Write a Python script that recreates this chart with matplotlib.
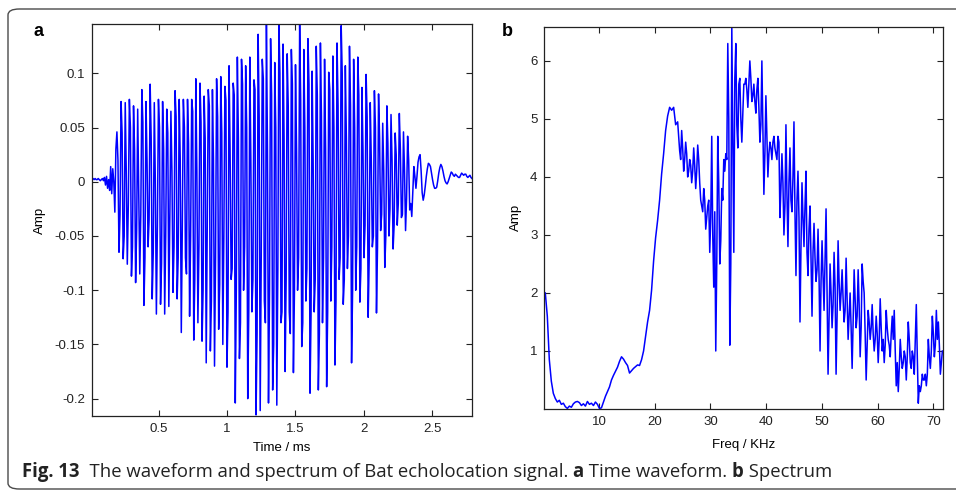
import numpy as np
import matplotlib
matplotlib.use("Agg")
import matplotlib.pyplot as plt
from matplotlib.patches import FancyBboxPatch

plt.rcParams['axes.unicode_minus'] = False

# ---------------- Data: (a) time waveform ----------------
t_start, t_end = 0.013, 2.79          # ms
wave_lead = [0.003, 0.003, 0.002, 0.003, 0.002, 0.002, 0.003, 0.002, 0.001, 0.002,
             0.003, 0.001, 0.004, -0.003, 0.005, -0.006, 0.002, -0.008, 0.014, -0.011,
             0.012, 0.000, -0.028, 0.030]
wave_pos = [0.046, 0.074, 0.073, 0.076, 0.070, 0.067, 0.085, 0.074, 0.090, 0.073,
            0.076, 0.074, 0.067, 0.065, 0.084, 0.076, 0.076, 0.076, 0.076, 0.095,
            0.091, 0.079, 0.085, 0.085, 0.095, 0.097, 0.088, 0.107, 0.091, 0.115,
            0.113, 0.107, 0.115, 0.094, 0.136, 0.113, 0.146, 0.132, 0.110, 0.146,
            0.127, 0.118, 0.122, 0.108, 0.146, 0.122, 0.132, 0.102, 0.125, 0.128,
            0.113, 0.101, 0.116, 0.128, 0.144, 0.107, 0.125, 0.113, 0.115, 0.087,
            0.099, 0.073, 0.084, 0.081, 0.054, 0.070, 0.062, 0.045, 0.063, 0.046,
            0.042]
wave_mid1 = [0.020, 0.045, 0.010, 0.050, 0.030, -0.010, 0.055, 0.020, 0.040, 0.000,
             0.050, 0.030, 0.045, 0.010, 0.060, 0.020, 0.050, 0.035, 0.065, 0.010,
             0.055, 0.040, 0.070, 0.020, 0.060, 0.045, 0.075, 0.030, 0.080, 0.040,
             0.090, 0.050, 0.020, 0.085, 0.060, 0.095, 0.030, 0.080, 0.050, 0.100,
             0.040, 0.070, 0.090, 0.030, 0.075, 0.050, 0.090, 0.020, 0.080, 0.060,
             0.030, 0.085, 0.050, 0.070, 0.100, 0.040, 0.070, 0.050, 0.080, 0.030,
             0.060, 0.020, 0.050, 0.040, 0.010, 0.035, 0.020, 0.025, 0.030, 0.010,
             0.020]
wave_neg = [-0.065, -0.071, -0.076, -0.087, -0.093, -0.085, -0.114, -0.060, -0.108, -0.122,
            -0.113, -0.122, -0.115, -0.102, -0.108, -0.139, -0.070, -0.124, -0.146, -0.130,
            -0.147, -0.167, -0.156, -0.170, -0.136, -0.150, -0.171, -0.090, -0.204, -0.163,
            -0.100, -0.200, -0.120, -0.215, -0.211, -0.110, -0.204, -0.192, -0.206, -0.130,
            -0.175, -0.120, -0.176, -0.100, -0.152, -0.110, -0.195, -0.120, -0.192, -0.130,
            -0.189, -0.110, -0.169, -0.090, -0.113, -0.080, -0.167, -0.100, -0.111, -0.070,
            -0.125, -0.060, -0.121, -0.045, -0.079, -0.050, -0.062, -0.040, -0.033, -0.045,
            -0.026]
wave_mid2 = [-0.030, -0.050, -0.020, -0.060, -0.045, -0.030, -0.070, -0.035, -0.065, -0.040,
             -0.075, -0.050, -0.030, -0.060, -0.070, -0.040, -0.085, -0.050, -0.090, -0.060,
             -0.100, -0.045, -0.110, -0.070, -0.095, -0.050, -0.120, -0.080, -0.100, -0.130,
             -0.060, -0.120, -0.090, -0.140, -0.070, -0.130, -0.100, -0.150, -0.080, -0.120,
             -0.090, -0.140, -0.100, -0.070, -0.130, -0.080, -0.120, -0.090, -0.140, -0.070,
             -0.120, -0.060, -0.110, -0.070, -0.090, -0.050, -0.100, -0.060, -0.080, -0.040,
             -0.070, -0.050, -0.060, -0.030, -0.050, -0.025, -0.040, -0.020, -0.030, -0.015,
             -0.020]
wave_tail = [-0.032, -0.010, 0.014, 0.005, -0.006, 0.005, 0.018, 0.023, 0.025, 0.010,
             -0.010, -0.017, -0.012, -0.004, 0.005, 0.012, 0.017, 0.016, 0.014, 0.008,
             0.002, -0.003, -0.006, -0.006, -0.005, 0.001, 0.008, 0.013, 0.016, 0.014,
             0.010, 0.005, 0.001, -0.001, -0.002, 0.000, 0.003, 0.006, 0.009, 0.008,
             0.006, 0.005, 0.007, 0.006, 0.005, 0.004, 0.004, 0.006, 0.008, 0.007,
             0.006, 0.007, 0.007, 0.005, 0.004, 0.005, 0.006, 0.004, 0.003]

# ---------------- Data: (b) spectrum ----------------
f_smooth_start, f_smooth_end = 0.36, 24.48     # kHz, coarse grid
f_noisy_start, f_noisy_end = 24.66, 71.64      # kHz, fine grid
spec_smooth = [
    2.00, 1.60, 0.85, 0.48, 0.27, 0.18, 0.12, 0.15, 0.08, 0.10,
    0.04, 0.01, 0.05, 0.03, 0.09, 0.12, 0.13, 0.11, 0.06, 0.09,
    0.05, 0.13, 0.08, 0.10, 0.06, 0.12, 0.08, 0.01, 0.02, 0.12,
    0.22, 0.30, 0.38, 0.50, 0.58, 0.65, 0.72, 0.82, 0.90, 0.86,
    0.80, 0.75, 0.62, 0.66, 0.70, 0.73, 0.76, 0.75, 0.85, 1.00,
    1.25, 1.50, 1.70, 2.05, 2.55, 2.95, 3.25, 3.60, 4.05, 4.40,
    4.80, 5.05, 5.20, 5.15, 5.20, 4.90, 4.95, 4.45]
spec_noisy_a = [
    4.3, 4.5, 4.3, 4.4, 4.1, 4.2, 4.1, 4.2, 4.1, 4.3,
    3.6, 3.4, 3.6, 3.3, 3.6, 3.3, 3.0, 3.4, 2.5, 3.9,
    2.9, 3.6, 4.1, 4.3, 5.0, 2.5, 4.6, 5.7, 4.9, 5.6,
    5.0, 5.1, 5.6, 5.5, 5.6, 5.7, 5.4, 5.3, 5.5, 5.2,
    4.9, 4.8, 4.4, 4.7, 4.4, 4.5, 4.6, 4.5, 4.3, 4.6,
    3.8, 3.9, 3.5, 3.7, 3.9, 3.6, 4.0, 3.4, 3.6, 3.3,
    2.8, 3.3, 3.5, 2.7, 3.1, 2.6, 2.7, 2.6, 2.4, 2.3,
    2.2, 2.3, 2.6, 2.0, 1.6, 2.0, 1.8, 2.1, 1.6, 2.2,
    2.0, 1.9, 1.7, 1.9, 1.6, 1.4, 1.5, 1.9, 1.6, 1.8,
    1.4, 2.2, 1.3, 1.1, 1.5, 1.4, 1.3, 1.2, 1.3, 1.2,
    1.4, 1.2, 1.1, 1.4, 1.1, 1.3, 1.2, 1.0, 0.8, 0.7,
    0.9, 0.8, 0.9, 0.9, 1.2, 0.7, 0.9, 1.2, 0.9, 0.4,
    0.4, 0.5, 0.6, 0.6, 0.9, 1.0, 1.3, 1.1, 1.2, 1.1,
    0.8]
spec_noisy_b = [
    4.80, 4.10, 4.60, 4.00, 4.30, 3.90, 4.50, 3.80, 4.55, 3.90,
    3.50, 3.80, 3.10, 3.50, 2.70, 4.70, 2.10, 1.00, 4.70, 2.50,
    3.80, 4.30, 4.40, 6.30, 1.10, 6.60, 2.70, 6.30, 4.50, 5.70,
    4.60, 5.60, 5.70, 5.20, 6.00, 5.30, 5.60, 5.10, 5.70, 4.60,
    6.00, 3.70, 5.40, 4.00, 4.60, 4.30, 4.70, 4.40, 4.70, 3.30,
    4.40, 3.00, 4.90, 2.80, 4.50, 3.40, 4.95, 2.30, 4.10, 1.50,
    3.90, 2.80, 4.10, 2.30, 3.50, 1.60, 3.20, 2.20, 3.10, 1.00,
    2.90, 1.70, 3.45, 0.60, 2.50, 1.40, 2.70, 0.60, 2.90, 1.70,
    2.40, 1.50, 2.60, 1.20, 2.00, 0.70, 2.40, 1.40, 2.40, 0.90,
    2.50, 2.00, 0.50, 1.70, 1.20, 1.80, 1.00, 1.60, 0.80, 1.90,
    1.00, 0.80, 1.70, 1.20, 0.90, 1.60, 1.70, 0.40, 0.30, 1.20,
    0.70, 1.00, 0.50, 1.50, 0.80, 1.00, 0.60, 1.80, 0.10, 0.30,
    0.60, 0.50, 0.40, 1.20, 0.70, 1.60, 0.90, 1.70, 1.50, 0.60,
    1.00]

a_xticks = [0.5, 1, 1.5, 2, 2.5]
a_xticklabels = ['0.5', '1', '1.5', '2', '2.5']
a_yticks = [0.1, 0.05, 0, -0.05, -0.1, -0.15, -0.2]
a_yticklabels = ['0.1', '0.05', '0', '-0.05', '-0.1', '-0.15', '-0.2']
b_xticks = [10, 20, 30, 40, 50, 60, 70]
b_yticks = [1, 2, 3, 4, 5, 6]

caption_parts = [("Fig. 13", "bold"),
                 ("  The waveform and spectrum of Bat echolocation signal. ", "normal"),
                 ("a", "bold"), (" Time waveform. ", "normal"),
                 ("b", "bold"), (" Spectrum", "normal")]

# ---------------- Build series ----------------
wave_main = np.column_stack([wave_pos, wave_mid1, wave_neg, wave_mid2]).ravel()
wave = np.concatenate([wave_lead, wave_main, wave_tail])
t = np.linspace(t_start, t_end, len(wave))

noisy = np.column_stack([spec_noisy_a, spec_noisy_b]).ravel()
freq = np.concatenate([np.linspace(f_smooth_start, f_smooth_end, len(spec_smooth)),
                       np.linspace(f_noisy_start, f_noisy_end, len(noisy))])
spec = np.concatenate([spec_smooth, noisy])

W, H = 956, 494
fig = plt.figure(figsize=(W / 100, H / 100), dpi=100)
fig.patch.set_facecolor('white')

# rounded frame
frame = FancyBboxPatch((8 / W, 5 / H), (W + 20) / W, (H - 9 - 5) / H,
                       boxstyle="round,pad=0,rounding_size=0.012",
                       transform=fig.transFigure, fill=False,
                       edgecolor='#4a4a4a', linewidth=1.0, clip_on=False)
fig.patches.append(frame)

tick_font = dict(family='Liberation Sans', size=9.5)
blue = '#0000ff'


def style_axes(ax):
    ax.tick_params(direction='in', length=4.5, width=0.8, top=True, right=True,
                   labelsize=9.5, colors='#222222', pad=5)
    for s in ax.spines.values():
        s.set_linewidth(0.9)
        s.set_color('#222222')
    for lab in ax.get_xticklabels() + ax.get_yticklabels():
        lab.set_fontfamily('Liberation Sans')


# Panel a
axa = fig.add_axes([92 / W, (H - 416) / H, 380 / W, 392 / H])
axa.plot(t, wave, color=blue, lw=1.1)
axa.set_xlim(t_start, t_end)
axa.set_ylim(-0.216, 0.1455)
axa.set_xticks(a_xticks)
axa.set_xticklabels(a_xticklabels)
axa.set_yticks(a_yticks)
axa.set_yticklabels(a_yticklabels)
style_axes(axa)
axa.set_xlabel('Time / ms', fontdict=tick_font, labelpad=5)
axa.set_ylabel('Amp', fontdict=tick_font, labelpad=6)

# Panel b
axb = fig.add_axes([544.3 / W, (H - 409) / H, 398.4 / W, 382.3 / H])
axb.plot(freq, spec, color=blue, lw=1.1)
axb.set_xlim(0.18, 71.7)
axb.set_ylim(0.0, 6.59)
axb.set_xticks(b_xticks)
axb.set_xticklabels([str(v) for v in b_xticks])
axb.set_yticks(b_yticks)
axb.set_yticklabels([str(v) for v in b_yticks])
style_axes(axb)
axb.set_xlabel('Freq / KHz', fontdict=tick_font, labelpad=8)
axb.set_ylabel('Amp', fontdict=tick_font, labelpad=6)

# Panel letters
fig.text(33 / W, 1 - 32 / H, 'a', fontsize=13, fontweight='bold',
         family='Liberation Sans', va='center', ha='left')
fig.text(502 / W, 1 - 32 / H, 'b', fontsize=13, fontweight='bold',
         family='Liberation Sans', va='center', ha='left')

# Caption with mixed weights, scaled to the reference width
fig.canvas.draw()
renderer = fig.canvas.get_renderer()
target_width = 807.0
base_size = 12.0
total = 0.0
for txt, wgt in caption_parts:
    tmp = fig.text(0, 0, txt, fontsize=base_size, fontweight=wgt, family='Open Sans')
    total += tmp.get_window_extent(renderer=renderer).width
    tmp.remove()
cap_size = base_size * target_width / total

x_px = 22
for txt, wgt in caption_parts:
    tt = fig.text(x_px / W, 1 - 472 / H, txt, fontsize=cap_size, fontweight=wgt,
                  family='Open Sans', va='center', ha='left', color='#222222')
    bb = tt.get_window_extent(renderer=renderer)
    x_px += bb.width

fig.savefig('out.png', dpi=100, facecolor='white')
